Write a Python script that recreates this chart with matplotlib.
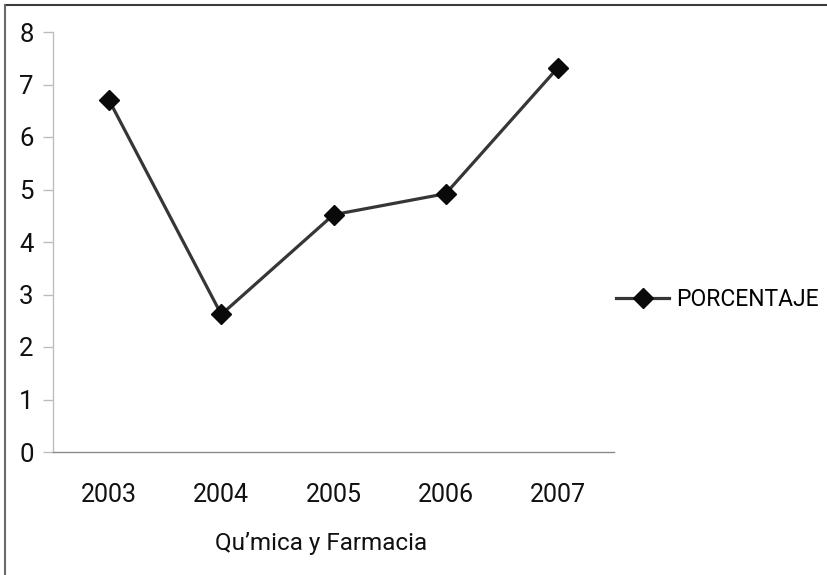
import matplotlib
matplotlib.use("Agg")
import matplotlib.pyplot as plt
from matplotlib.lines import Line2D

plt.rcParams['font.family'] = ['Roboto', 'DejaVu Sans']

years = ["2003", "2004", "2005", "2006", "2007"]
porcentaje = [6.70, 2.62, 4.52, 4.92, 7.32]
y_ticks = [0, 1, 2, 3, 4, 5, 6, 7, 8]
series_name = "PORCENTAJE"
x_title = "Qu\u2019mica y Farmacia"

fig = plt.figure(figsize=(8.27, 5.75), dpi=100)
ax = fig.add_axes([53 / 827, 1 - 452 / 575, (614 - 53) / 827, (452 - 32) / 575])

x = list(range(len(years)))
ax.plot(x, porcentaje, color="#363636", linewidth=2.3, marker="D",
        markersize=10, markerfacecolor="#0a0a0a", markeredgecolor="#0a0a0a",
        label=series_name)

ax.set_xlim(-0.5, len(years) - 0.5)
ax.set_ylim(0, 8)
ax.set_yticks(y_ticks)
ax.set_xticks(x)
ax.set_xticklabels(years)

for side in ("top", "right"):
    ax.spines[side].set_visible(False)
ax.spines["left"].set_color("#bdbdbd")
ax.spines["left"].set_linewidth(1.0)
ax.spines["bottom"].set_color("#8a8a8a")
ax.spines["bottom"].set_linewidth(1.0)

ax.tick_params(axis="y", length=7, width=1, color="#bdbdbd", labelsize=18.5,
               pad=7, labelcolor="#111111")
ax.tick_params(axis="x", length=0, labelsize=18, pad=22, labelcolor="#111111")
ax.set_xlabel(x_title, fontsize=17.5, color="#111111")
ax.xaxis.set_label_coords(0.478, -0.19)

ax.legend(loc="center left", bbox_to_anchor=(1.004, 0.362), frameon=False,
          fontsize=16.5, handlelength=2.3, handletextpad=0.3,
          borderaxespad=0.0, borderpad=0.0)

# outer frame: top and left edges
fig.add_artist(Line2D([5 / 827, 1], [1 - 5 / 575, 1 - 5 / 575],
                      transform=fig.transFigure, color="#3a3a3a", linewidth=1.5))
fig.add_artist(Line2D([5 / 827, 5 / 827], [0, 1 - 5 / 575],
                      transform=fig.transFigure, color="#6a6a6a", linewidth=1.5))

fig.savefig("out.png", dpi=100)
